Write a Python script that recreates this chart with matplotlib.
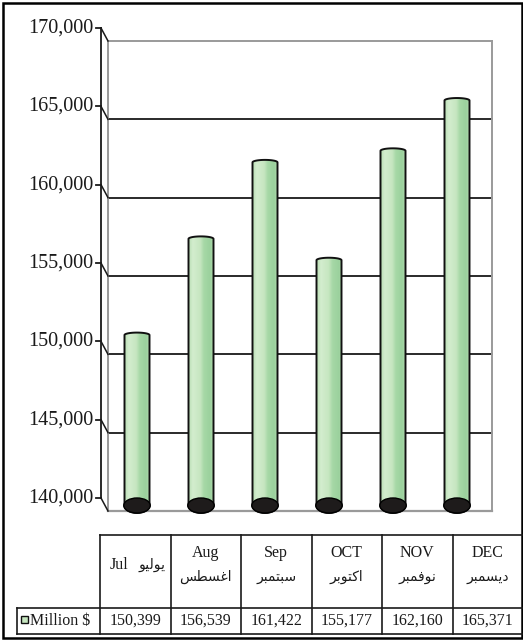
import numpy as np
import matplotlib.pyplot as plt
from matplotlib.patches import Ellipse, Polygon, Rectangle
from matplotlib.colors import LinearSegmentedColormap

# data
months_en = ['Jul', 'Aug', 'Sep', 'OCT', 'NOV', 'DEC']
months_ar = ['يوليو', 'اغسطس', 'سبتمبر', 'اكتوبر', 'نوفمبر', 'ديسمبر']
values = [150399, 156539, 161422, 155177, 162160, 165371]
yticks = [140000, 145000, 150000, 155000, 160000, 165000, 170000]
series_name = 'Million $'

# arabic shaping (matplotlib does no joining / rtl)
FORMS = {
    'ا': ('\uFE8D', '\uFE8E'),
    'د': ('\uFEA9', '\uFEAA'),
    'ر': ('\uFEAD', '\uFEAE'),
    'و': ('\uFEED', '\uFEEE'),
    'ب': ('\uFE8F', '\uFE90', '\uFE91', '\uFE92'),
    'ت': ('\uFE95', '\uFE96', '\uFE97', '\uFE98'),
    'س': ('\uFEB1', '\uFEB2', '\uFEB3', '\uFEB4'),
    'ط': ('\uFEC1', '\uFEC2', '\uFEC3', '\uFEC4'),
    'غ': ('\uFECD', '\uFECE', '\uFECF', '\uFED0'),
    'ف': ('\uFED1', '\uFED2', '\uFED3', '\uFED4'),
    'ك': ('\uFED9', '\uFEDA', '\uFEDB', '\uFEDC'),
    'ل': ('\uFEDD', '\uFEDE', '\uFEDF', '\uFEE0'),
    'م': ('\uFEE1', '\uFEE2', '\uFEE3', '\uFEE4'),
    'ن': ('\uFEE5', '\uFEE6', '\uFEE7', '\uFEE8'),
    'ي': ('\uFEF1', '\uFEF2', '\uFEF3', '\uFEF4'),
}


def shape(word):
    out = []
    n = len(word)
    for i, ch in enumerate(word):
        f = FORMS[ch]
        prev = i > 0 and len(FORMS[word[i - 1]]) == 4
        nxt = i < n - 1 and len(f) == 4
        if prev and nxt:
            out.append(f[3])
        elif prev:
            out.append(f[1])
        elif nxt:
            out.append(f[2])
        else:
            out.append(f[0])
    return ''.join(reversed(out))


SERIF = 'Liberation Serif'
AR = 'DejaVu Sans'

W, H = 523, 641
fig = plt.figure(figsize=(W / 100, H / 100), dpi=100)

# overlay axes in pixel units for frame + table
tab = fig.add_axes([0, 0, 1, 1], zorder=0)
tab.set_xlim(0, W)
tab.set_ylim(H, 0)
tab.axis('off')

# outer frame
tab.add_patch(Rectangle((3, 2.5), 518.5, 635.5, fill=False, ec='black', lw=1.8))

# chart axes: pixel scale 470 px per 30000
U = 30000 / 470.0          # value units per pixel
PX = 64.0                  # pixels per category
x0 = 137.0                 # pixel centre of first bar
ax = fig.add_axes([90 / W, (H - 520) / H, 410 / W, 500 / H], zorder=1)
ax.patch.set_alpha(0)
ax.axis('off')


def xi(px):
    return (px - x0) / PX


ymin, ymax = yticks[0], yticks[-1]
dx, dy = 7 / PX, 13 * U     # depth offset of back wall

# back wall
wl, wr = xi(108), xi(492)
for t in yticks[1:-1]:
    ax.plot([wl, wr], [t - dy, t - dy], color='#2a2a2a', lw=1.4, zorder=1)
ax.plot([wl, wr], [ymax - dy, ymax - dy], color='#9a9a9a', lw=1.4, zorder=1)
ax.plot([wl, wr], [ymin - dy, ymin - dy], color='#9a9a9a', lw=1.6, zorder=1)
ax.plot([wl, wl], [ymin - dy, ymax - dy], color='#9a9a9a', lw=1.4, zorder=1)
ax.plot([wr, wr], [ymin - dy, ymax - dy], color='#9a9a9a', lw=1.4, zorder=1)

# y axis
ya = xi(101)
ax.plot([ya, ya], [ymin, ymax], color='#1a1a1a', lw=1.3, zorder=2)
for t in yticks:
    ax.plot([xi(96), ya], [t, t], color='#1a1a1a', lw=1.3, zorder=2)
    ax.plot([ya, ya + dx], [t, t - dy], color='#1a1a1a', lw=1.1, zorder=2)
    ax.text(xi(93), t, f'{t:,}', ha='right', va='center',
            fontsize=14.5, family=SERIF, color='#1a1a1a')

# cylinders
cmap = LinearSegmentedColormap.from_list('cyl', [
    (0.0, '#bde0b7'), (0.15, '#d3edce'), (0.45, '#c6e6c0'),
    (0.6, '#a6d8a6'), (0.85, '#9bd19d'), (1.0, '#b4ddb1')])
hw = 12.5 / PX
base = ymin - 7.5 * U
bh = 7.5 * U
ch = 2.5 * U
grad = np.linspace(0, 1, 100).reshape(1, -1)
th_top = np.linspace(np.pi, 0, 40)
th_bot = np.linspace(0, -np.pi, 40)
for i, v in enumerate(values):
    pts = np.vstack([
        [[i - hw, base]],
        np.column_stack([i + hw * np.cos(th_top), v + ch * np.sin(th_top)]),
        np.column_stack([i + hw * np.cos(th_bot), base + bh * np.sin(th_bot)]),
    ])
    poly = Polygon(pts, closed=True, fc='none', ec='#111111', lw=1.4, zorder=4)
    ax.add_patch(poly)
    im = ax.imshow(grad, cmap=cmap, aspect='auto', zorder=3,
                   extent=[i - hw, i + hw, base - bh, v + ch])
    im.set_clip_path(poly)
    ax.add_patch(Ellipse((i, base), 2 * hw + 1.5 / PX, 2 * bh,
                         fc='#1e1b1b', ec='#000000', lw=1.0, zorder=5))

ax.set_xlim(xi(90), xi(500))
ax.set_ylim(ymin - 22 * U, ymax + 8 * U)

# data table
top, mid, bot = 535, 608, 634
edges = [100 + 70.5 * k for k in range(len(months_en) + 1)]
lc = dict(color='#1a1a1a', lw=1.2)
tab.plot([edges[0], 521.5], [top, top], **lc)
tab.plot([17, 521.5], [mid, mid], **lc)
tab.plot([17, 521.5], [bot, bot], **lc)
tab.plot([17, 17], [mid, bot], **lc)
for e in edges[:-1]:
    tab.plot([e, e], [top, bot], **lc)

for k, (en, ar, v) in enumerate(zip(months_en, months_ar, values)):
    cx = (edges[k] + edges[k + 1]) / 2
    if k == 0:
        tab.text(cx - 16, 565, en, ha='center', va='center', fontsize=11.5,
                 family=SERIF, color='#1a1a1a')
        tab.text(cx + 17, 565, shape(ar), ha='center', va='center',
                 fontsize=10, family=AR, color='#1a1a1a')
    else:
        tab.text(cx, 553, en, ha='center', va='center', fontsize=11.5,
                 family=SERIF, color='#1a1a1a')
        tab.text(cx, 577, shape(ar), ha='center', va='center',
                 fontsize=10, family=AR, color='#1a1a1a')
    tab.text(cx, 621, f'{v:,}', ha='center', va='center', fontsize=11.5,
             family=SERIF, color='#1a1a1a')

# legend key
tab.add_patch(Rectangle((20.5, 615.5), 7, 7, fc='#c6e6c0', ec='#111111', lw=1.0))
tab.text(30, 620.5, series_name, ha='left', va='center', fontsize=11.5,
         family=SERIF, color='#1a1a1a')

fig.savefig('out.png', dpi=100)
